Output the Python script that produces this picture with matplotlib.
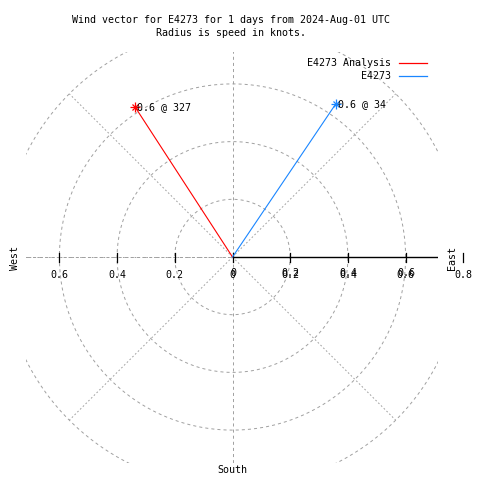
import numpy as np
import matplotlib
matplotlib.use("Agg")
import matplotlib.pyplot as plt
from matplotlib.patches import Rectangle

plt.rcParams['font.family'] = ['DejaVu Sans Mono']
plt.rcParams['lines.scale_dashes'] = False

# wind vectors (speed in knots, direction in degrees from north)
series = ['E4273 Analysis', 'E4273']
speeds = [0.62, 0.64]
directions = [327, 34]
colors = ['#ff0000', '#1a86ff']

rings = [0.2, 0.4, 0.6, 0.8]
spokes = [0, 45, 90, 135, 180, 225, 270, 315]
tick_vals = [-0.6, -0.4, -0.2, 0, 0.2, 0.4, 0.6, 0.8]
tick_text = ['0.6', '0.4', '0.2', '0', '0.2', '0.4', '0.6', '0.8']

title = 'Wind vector for E4273 for 1 days from 2024-Aug-01 UTC\nRadius is speed in knots.'

# pixel geometry of the reference
W = 480
cx, cy = 232.5, 257.0
scale = 288.5
fs = 7.2
grey = '#a0a0a0'


def px(x, y):
    # pixel (from top-left) -> data
    return (x - cx) / scale, (cy - y) / scale


fig = plt.figure(figsize=(4.8, 4.8), dpi=100)
ax = fig.add_axes([0, 0, 1, 1])
ax.set_xlim(-cx / scale, (W - cx) / scale)
ax.set_ylim(-(W - cy) / scale, cy / scale)
ax.axis('off')

x0, y1 = px(26, 52)
x1, y0 = px(438, 463)
clip = Rectangle((x0, y0), x1 - x0, y1 - y0, transform=ax.transData,
                 fill=False, lw=0)

t = np.linspace(0, 2 * np.pi, 721)
for r in rings:
    ln, = ax.plot(r * np.cos(t), r * np.sin(t), color=grey, lw=0.7,
                  dashes=(2.2, 2.2))
    ln.set_clip_path(clip)

for a in spokes:
    if a in (0, 90, 180):
        continue
    ang = np.radians(a)
    ln, = ax.plot([0, 0.8 * np.sin(ang)], [0, 0.8 * np.cos(ang)], color=grey,
                  lw=0.7, dashes=(1.2, 1.6))
    ln.set_clip_path(clip)

ln, = ax.plot([0, 0], [-0.8, 0.8], color=grey, lw=0.7, dashes=(2.2, 2.2))
ln.set_clip_path(clip)
ln, = ax.plot([-0.8, 0], [0, 0], color=grey, lw=0.7, dashes=(2.2, 2.2))
ln.set_clip_path(clip)
ln, = ax.plot([0, 0.8], [0, 0], color='black', lw=1.0)
ln.set_clip_path(clip)

# ticks and (overprinted) tick labels along the east-west axis
tl = 4.5 / scale
for v, s in zip(tick_vals, tick_text):
    ax.plot([v, v], [-tl, tl], color='black', lw=0.9)
    ty = -18 / scale
    ax.text(v, ty, s, ha='center', va='center', fontsize=fs)
    if 0 <= v < 0.7:
        ax.text(v + 0.5 / scale, ty + 2 / scale, s, ha='center', va='center',
                fontsize=fs)

for name, sp, d, c in zip(series, speeds, directions, colors):
    ang = np.radians(d)
    ex, ey = sp * np.sin(ang), sp * np.cos(ang)
    ax.plot([0, ex], [0, ey], color=c, lw=0.8)
    ax.plot(ex, ey, marker='+', ms=7, mew=0.9, color=c)
    ax.plot(ex, ey, marker='x', ms=5, mew=0.9, color=c)
    ax.text(ex + 2 / scale, ey, f'{sp:.1f} @ {d}', ha='left', va='center',
            fontsize=fs)

# legend
for i, (name, c) in enumerate(zip(series, colors)):
    ly = 63 + 13 * i
    tx, tyy = px(391, ly)
    ax.text(tx, tyy, name, ha='right', va='center', fontsize=fs)
    lx0, lyy = px(399, ly)
    lx1, _ = px(427, ly)
    ax.plot([lx0, lx1], [lyy, lyy], color=c, lw=0.9)

fig.text(231.5 / W, 1 - 26.5 / W, title, ha='center', va='center', fontsize=fs,
         linespacing=1.45)

wx, wy = px(15, 258)
ax.text(wx, wy, 'West', rotation=90, ha='center', va='center', fontsize=fs)
ex_, ey_ = px(452, 258)
ax.text(ex_, ey_, 'East', rotation=90, ha='center', va='center', fontsize=fs)
sx, sy = px(232, 470)
ax.text(sx, sy, 'South', ha='center', va='center', fontsize=fs)

fig.savefig('out.png', dpi=100)
